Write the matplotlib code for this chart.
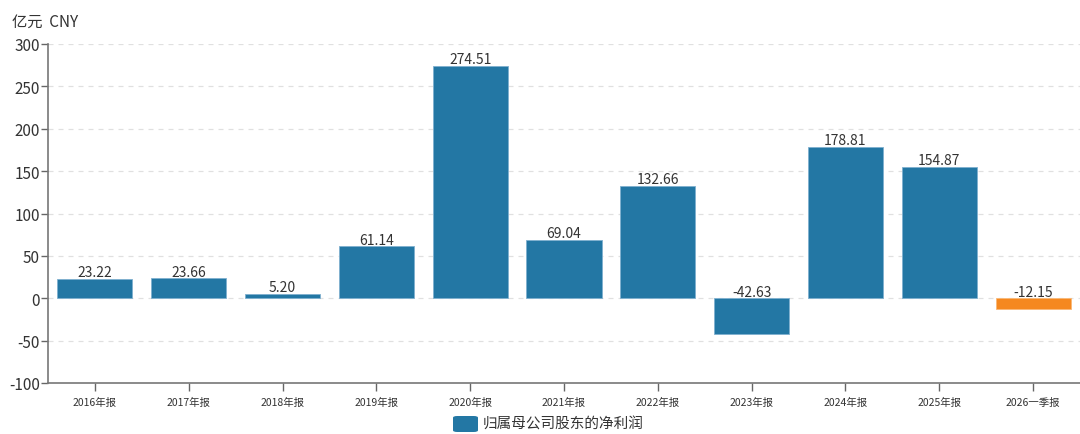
import matplotlib
matplotlib.use("Agg")
import matplotlib.pyplot as plt
from matplotlib.patches import FancyBboxPatch

plt.rcParams['font.family'] = ['Noto Sans CJK SC', 'DejaVu Sans']

categories = ["2016年报", "2017年报", "2018年报", "2019年报", "2020年报", "2021年报",
              "2022年报", "2023年报", "2024年报", "2025年报", "2026一季报"]
values = [23.22, 23.66, 5.20, 61.14, 274.51, 69.04, 132.66, -42.63, 178.81, 154.87, -12.15]
labels = ["23.22", "23.66", "5.20", "61.14", "274.51", "69.04", "132.66", "-42.63", "178.81", "154.87", "-12.15"]
yticks = [-100, -50, 0, 50, 100, 150, 200, 250, 300]
legend_label = "归属母公司股东的净利润"
unit_label = "亿元  CNY"

blue = "#2377a4"
orange = "#f5881f"
colors = [blue] * (len(values) - 1) + [orange]
edges = ["#7fb0cf"] * (len(values) - 1) + ["#f9b877"]

fig = plt.figure(figsize=(10.8, 4.35), dpi=100)
ax = fig.add_axes([48/1080, 1-384/435, 1032/1080, (384-45)/435])

x = list(range(len(categories)))
ax.bar(x, values, width=0.8, color=colors, edgecolor=edges, linewidth=0.6, zorder=3)
for xi, v, lab in zip(x, values, labels):
    ax.text(xi, max(v, 0) - 0.5, lab, ha="center", va="bottom", fontsize=10, color="#333333", zorder=4)

ax.set_xlim(-0.5, len(categories) - 0.5)
ax.set_ylim(-100, 300)
ax.set_yticks(yticks)
ax.set_yticklabels([str(t) for t in yticks], fontsize=11, color="#333333")
ax.set_xticks(x)
ax.set_xticklabels(categories, fontsize=7.5, color="#333333")
ax.tick_params(axis="y", length=5, width=1, color="#666666", pad=1)
ax.tick_params(axis="x", length=6, width=1, color="#666666", pad=4)
for t in yticks:
    if t != -100:
        ax.axhline(t, color="#e0e0e0", linestyle=(0, (4, 4)), linewidth=0.9, zorder=1)
for s in ["top", "right"]:
    ax.spines[s].set_visible(False)
ax.spines["left"].set_color("#777777")
ax.spines["bottom"].set_color("#777777")
ax.spines["left"].set_linewidth(1.2)
ax.spines["bottom"].set_linewidth(1.2)

fig.text(12/1080, 1-22/435, unit_label, fontsize=11, color="#333333", va="center", ha="left")

# legend
fig.patches.append(FancyBboxPatch((453/1080, 1-433/435), 25/1080, 16/435,
                                  boxstyle="round,pad=0,rounding_size=0.004",
                                  transform=fig.transFigure, facecolor=blue, edgecolor="none"))
fig.text(483/1080, 1-425/435, legend_label, fontsize=10.5, color="#333333", va="center", ha="left")

fig.savefig("out.png", dpi=100)
